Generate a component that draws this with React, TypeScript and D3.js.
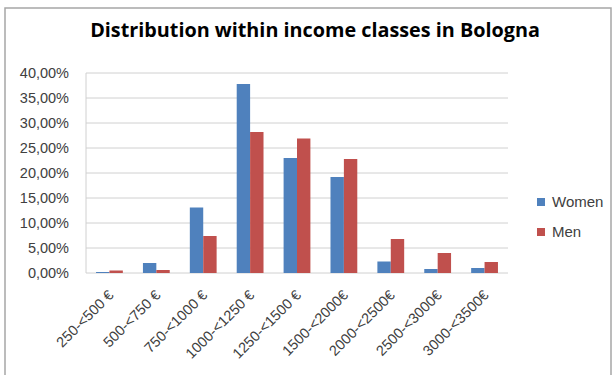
import React from "react";
import * as d3 from "d3";

const categories = ["250-<500 €", "500-<750 €", "750-<1000 €", "1000-<1250 €", "1250-<1500 €", "1500-<2000€", "2000-<2500€", "2500-<3000€", "3000-<3500€"];
const women = [0.2, 2.0, 13.1, 37.8, 23.0, 19.2, 2.3, 0.8, 1.0];
const men = [0.5, 0.6, 7.4, 28.2, 26.9, 22.8, 6.8, 4.0, 2.2];
const yTicks = [0, 5, 10, 15, 20, 25, 30, 35, 40];
const seriesNames = ["Women", "Men"];
const colors = ["#4F81BD", "#C0504D"];

export default function App() {
  const W = 614, H = 375;
  const left = 86, right = 508, top = 73, bottom = 273;
  const x = d3.scaleBand().domain(categories).range([left, right]).paddingInner(0).paddingOuter(0);
  const y = d3.scaleLinear().domain([0, 40]).range([bottom, top]);
  const bw = x.bandwidth() / 3.5;
  const font = "Liberation Sans, Arial, sans-serif";
  const fmt = (v: number) => v.toFixed(2).replace(".", ",") + "%";
  const series = [women, men];
  return (
    <svg width={W} height={H} style={{ position: "absolute", left: 0, top: 0, background: "#fff" }}>
      <rect x={5} y={8} width={606} height={380} fill="#fff" stroke="#a6a6a6" strokeWidth={1.5} />
      <text x={315} y={37} textAnchor="middle" fontFamily="Open Sans, sans-serif" fontWeight="bold" fontSize={19.8} fill="#000">
        Distribution within income classes in Bologna
      </text>
      {yTicks.map((t) => (
        <g key={t}>
          <line x1={left} x2={right} y1={y(t)} y2={y(t)} stroke="#d0d0d0" strokeWidth={1} />
          <text x={69} y={y(t) + 5} textAnchor="end" fontFamily={font} fontSize={14.5} fill="#404040">{fmt(t)}</text>
        </g>
      ))}
      <line x1={left} x2={left} y1={top} y2={bottom} stroke="#d0d0d0" />
      {categories.map((c, i) => (
        <g key={c}>
          {series.map((s, k) => {
            const bx = (x(c) as number) + bw * 0.75 + k * bw;
            return <rect key={k} x={bx} y={y(s[i])} width={bw} height={bottom - y(s[i])} fill={colors[k]} />;
          })}
          <text transform={`translate(${(x(c) as number) + x.bandwidth() / 2 + 5},${bottom + 23}) rotate(-45)`} textAnchor="end" fontFamily={font} fontSize={14.5} fill="#404040">{c}</text>
        </g>
      ))}
      {seriesNames.map((n, k) => (
        <g key={n}>
          <rect x={537} y={198 + k * 30} width={8} height={8} fill={colors[k]} />
          <text x={552} y={207 + k * 30} fontFamily={font} fontSize={15} fill="#404040">{n}</text>
        </g>
      ))}
    </svg>
  );
}
